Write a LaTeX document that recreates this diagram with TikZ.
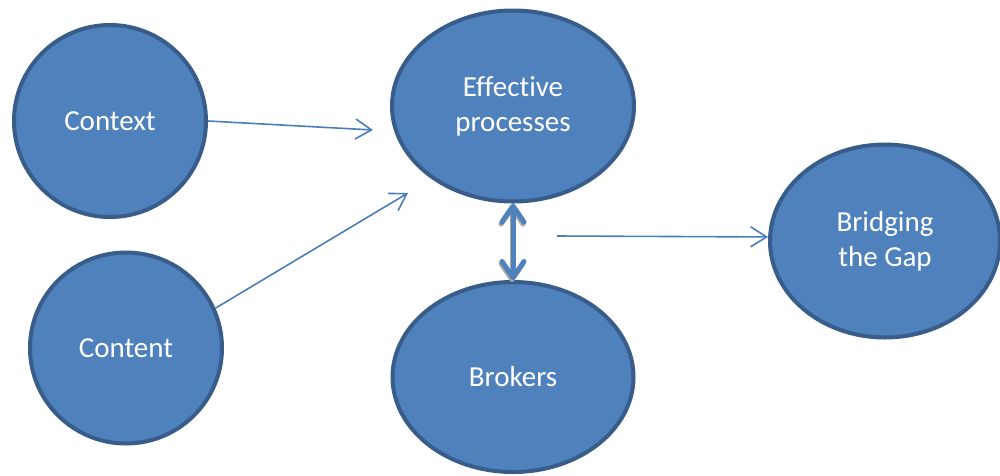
\documentclass[tikz,border=0pt]{standalone}
\usepackage{fontspec}
\setmainfont{Carlito}[Ligatures=NoCommon]
\usetikzlibrary{shapes.geometric,arrows.meta}
\definecolor{bubblefill}{HTML}{4F81BD}
\definecolor{bubbleedge}{HTML}{385D8A}
\definecolor{linkblue}{HTML}{4A7EBB}
\begin{document}
\begin{tikzpicture}[x=1pt,y=-1pt,
  bubble/.style={ellipse, draw=bubbleedge, fill=bubblefill, line width=4pt,
    inner sep=0pt, text=white, align=center,
    font=\fontsize{29}{35}\selectfont},
  link/.style={draw=linkblue, line width=1.6pt,
    -{Straight Barb[length=16pt,width=20pt,line width=1.6pt]}},
  twoway/.style={line width=5pt,
    {Straight Barb[length=16pt,width=22pt,round]}-{Straight Barb[length=16pt,width=22pt,round]}}
]
\useasboundingbox (0,0) rectangle (1000,475);

\node[bubble, minimum width=192pt, minimum height=192pt] (ctx) at (110,121) {Context};
\node[bubble, minimum width=192pt, minimum height=191pt] (ctn) at (126,348) {Content};
\node[bubble, minimum width=242pt, minimum height=191pt] (eff) at (513,106) {Effective\\processes};
\node[bubble, minimum width=241pt, minimum height=190pt] (brk) at (513,377) {Brokers};
\node[bubble, minimum width=230pt, minimum height=193pt] (brg) at (885,241) {Bridging\\the Gap};

\coordinate (ctxEnd) at (373,130);
\coordinate (ctnEnd) at (408,193);
\coordinate (gapStart) at (557,236);

\draw[link] (ctx.east) -- (ctxEnd);
\draw[link] (ctn.24) -- (ctnEnd);
\draw[link] (gapStart) -- (brg.178);

% two-way link with its soft grey shadow
\draw[twoway, draw=gray!70] ([shift={(-1,2)}]eff.south) -- ([shift={(-1,2)}]brk.north);
\draw[twoway, draw=bubblefill] (eff.south) -- (brk.north);
\end{tikzpicture}
\end{document}
